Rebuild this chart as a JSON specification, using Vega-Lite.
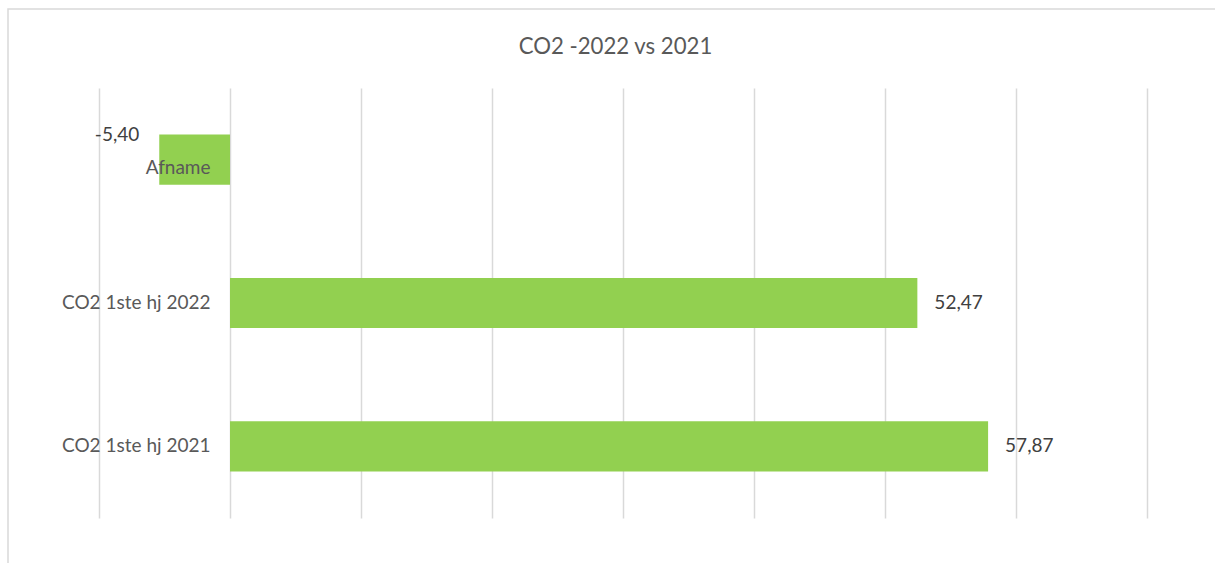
{
  "$schema": "https://vega.github.io/schema/vega-lite/v6.json",
  "autosize": "none",
  "width": 1215,
  "height": 588,
  "padding": {"left": 8, "top": 9, "right": 0, "bottom": 0},
  "background": "white",
  "title": {
    "text": "CO2 -2022 vs 2021",
    "anchor": "middle",
    "offset": -49,
    "font": "Lato",
    "fontSize": 22.2,
    "fontWeight": "normal",
    "color": "#595959"
  },
  "data": {
    "values": [
      {"category": "Afname", "value": -5.40, "label": "-5,40"},
      {"category": "CO2 1ste hj 2022", "value": 52.47, "label": "52,47"},
      {"category": "CO2 1ste hj 2021", "value": 57.87, "label": "57,87"}
    ]
  },
  "encoding": {
    "y": {
      "field": "category",
      "type": "nominal",
      "sort": null,
      "scale": {"range": [79, 509], "paddingInner": 0.65, "paddingOuter": 0.325},
      "axis": {
        "title": null,
        "orient": "left",
        "offset": -222,
        "zindex": 1,
        "domain": false,
        "ticks": false,
        "labelPadding": 20,
        "labelFont": "Lato",
        "labelFontSize": 19,
        "labelColor": "#595959",
        "labelOffset": {"condition": {"test": "datum.value === 'Afname'", "value": 8}, "value": 0}
      }
    },
    "x": {
      "field": "value",
      "type": "quantitative",
      "scale": {"domain": [-10, 70], "range": [91, 1139], "nice": false},
      "axis": {
        "title": null,
        "labels": false,
        "ticks": false,
        "domain": false,
        "grid": true,
        "gridColor": "#d9d9d9",
        "gridWidth": 1.5,
        "values": [-10, 0, 10, 20, 30, 40, 50, 60, 70]
      }
    }
  },
  "layer": [
    {"mark": {"type": "bar", "color": "#92D050"}},
    {
      "transform": [{"filter": "datum.value >= 0"}],
      "mark": {"type": "text", "align": "left", "baseline": "middle", "dx": 17, "font": "Lato", "fontSize": 19, "color": "#404040"},
      "encoding": {"text": {"field": "label"}}
    },
    {
      "transform": [{"filter": "datum.value < 0"}],
      "mark": {"type": "text", "align": "right", "baseline": "middle", "dx": -20, "dy": -25, "font": "Lato", "fontSize": 19, "color": "#404040"},
      "encoding": {"text": {"field": "label"}}
    }
  ],
  "config": {
    "view": {"stroke": "#d9d9d9", "strokeWidth": 1.5}
  }
}
